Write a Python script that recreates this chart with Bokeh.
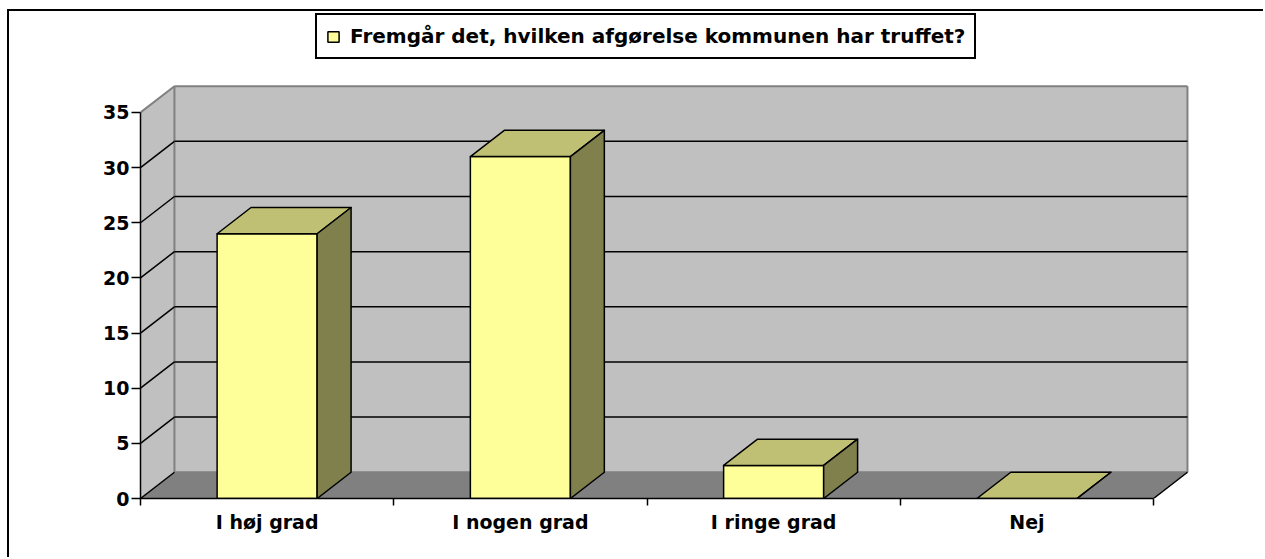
from bokeh.plotting import figure
from bokeh.models import Range1d, FixedTicker, Legend, LegendItem
from bokeh.embed import file_html
from bokeh.resources import INLINE

# ---- data ----
categories = ["I høj grad", "I nogen grad", "I ringe grad", "Nej"]
values = [24, 31, 3, 0]
y_ticks = [0, 5, 10, 15, 20, 25, 30, 35]
series_name = "Fremgår det, hvilken afgørelse kommunen har truffet?"

# ---- 3D geometry (in data units) ----
Y_MAX = 35
DX = 0.134
DY = 2.38
BAR_W = 0.395
n = len(categories)

WALL = "#C0C0C0"
FLOOR = "#808080"
EDGE = "#808080"
FRONT = "#FFFF99"
TOP = "#C0C074"
SIDE = "#80804C"
FONT = "DejaVu Sans"

# frame spans from the legend area down to the value axis origin
p = figure(width=1256, height=548, output_backend="svg", toolbar_location=None,
           x_range=Range1d(0, 4.146), y_range=Range1d(0, 43.97),
           min_border_left=131, min_border_right=75, min_border_top=2,
           min_border_bottom=61)
p.outline_line_color = None
p.xgrid.visible = False
p.ygrid.visible = False
p.background_fill_color = "white"
p.border_fill_color = "white"
p.styles = {"border-left": "2px solid black", "border-top": "2px solid black",
            "margin-left": "7px", "margin-top": "9px"}

# walls and floor
p.patch([0, DX, DX, 0], [0, DY, Y_MAX + DY, Y_MAX], fill_color=WALL, line_color=None)
p.patch([DX, n + DX, n + DX, DX], [DY, DY, Y_MAX + DY, Y_MAX + DY], fill_color=WALL, line_color=None)
p.patch([0, n, n + DX, DX], [0, 0, DY, DY], fill_color=FLOOR, line_color=None)

# grey wall edges
p.segment(x0=[DX, n + DX, DX, 0, DX], y0=[Y_MAX + DY, DY, DY, Y_MAX, DY],
          x1=[n + DX, n + DX, DX, DX, n + DX], y1=[Y_MAX + DY, Y_MAX + DY, Y_MAX + DY, Y_MAX + DY, DY],
          line_color=EDGE, line_width=2)

# gridlines (back wall and left wall)
grid_vals = y_ticks[1:-1]
p.segment(x0=[DX] * len(grid_vals), y0=[v + DY for v in grid_vals],
          x1=[n + DX] * len(grid_vals), y1=[v + DY for v in grid_vals],
          line_color="black", line_width=1.5)
p.segment(x0=[0] * len(y_ticks[:-1]), y0=y_ticks[:-1],
          x1=[DX] * len(y_ticks[:-1]), y1=[v + DY for v in y_ticks[:-1]],
          line_color="black", line_width=1.5)
# floor right edge
p.segment(x0=[n], y0=[0], x1=[n + DX], y1=[DY], line_color="black", line_width=1.5)

# bars
centers = [i + 0.5 for i in range(n)]
lefts = [c - BAR_W / 2 for c in centers]
rights = [c + BAR_W / 2 for c in centers]
front = p.quad(left=lefts, right=rights, bottom=[0] * n, top=values,
               fill_color=FRONT, line_color="black", line_width=1.5)
p.patches([[l, r, r + DX, l + DX] for l, r in zip(lefts, rights)],
          [[v, v, v + DY, v + DY] for v in values],
          fill_color=TOP, line_color="black", line_width=1.5, line_join="round")
p.patches([[r, r + DX, r + DX, r] for r in rights],
          [[0, DY, v + DY, v] for v in values],
          fill_color=SIDE, line_color="black", line_width=1.5, line_join="round")

# axes
p.yaxis.ticker = FixedTicker(ticks=y_ticks)
p.yaxis.bounds = (0, Y_MAX)
p.yaxis.major_tick_out = 9
p.yaxis.major_tick_in = 0
p.yaxis.major_label_standoff = 2
p.yaxis.minor_tick_line_color = None

p.xaxis.ticker = FixedTicker(ticks=centers, minor_ticks=list(range(n + 1)))
p.xaxis.bounds = (0, n)
p.xaxis.major_label_overrides = {c: cat for c, cat in zip(centers, categories)}
p.xaxis.major_tick_line_color = None
p.xaxis.major_tick_out = 0
p.xaxis.minor_tick_out = 7
p.xaxis.minor_tick_in = 0
p.xaxis.minor_tick_line_color = "black"
p.xaxis.minor_tick_line_width = 1.5
p.xaxis.major_label_standoff = 5

for ax in (p.xaxis, p.yaxis):
    ax.axis_line_color = "black"
    ax.axis_line_width = 1.5
    ax.major_tick_line_width = 1.5
    ax.major_label_text_font = FONT
    ax.major_label_text_font_style = "bold"
    ax.major_label_text_color = "black"
p.yaxis.major_label_text_font_size = "19px"
p.xaxis.major_label_text_font_size = "19px"

legend = Legend(items=[LegendItem(label=series_name, renderers=[front])],
                location=(175, 439))
legend.border_line_color = "black"
legend.border_line_alpha = 1
legend.border_line_width = 2
legend.background_fill_color = "white"
legend.background_fill_alpha = 1
legend.label_text_font = FONT
legend.label_text_font_style = "bold"
legend.label_text_font_size = "20px"
legend.label_text_color = "black"
legend.glyph_width = 14
legend.glyph_height = 13
legend.padding = 9
legend.margin = 0
legend.label_standoff = 10
p.add_layout(legend, "center")

open("out.html", "w").write(file_html(p, INLINE))
